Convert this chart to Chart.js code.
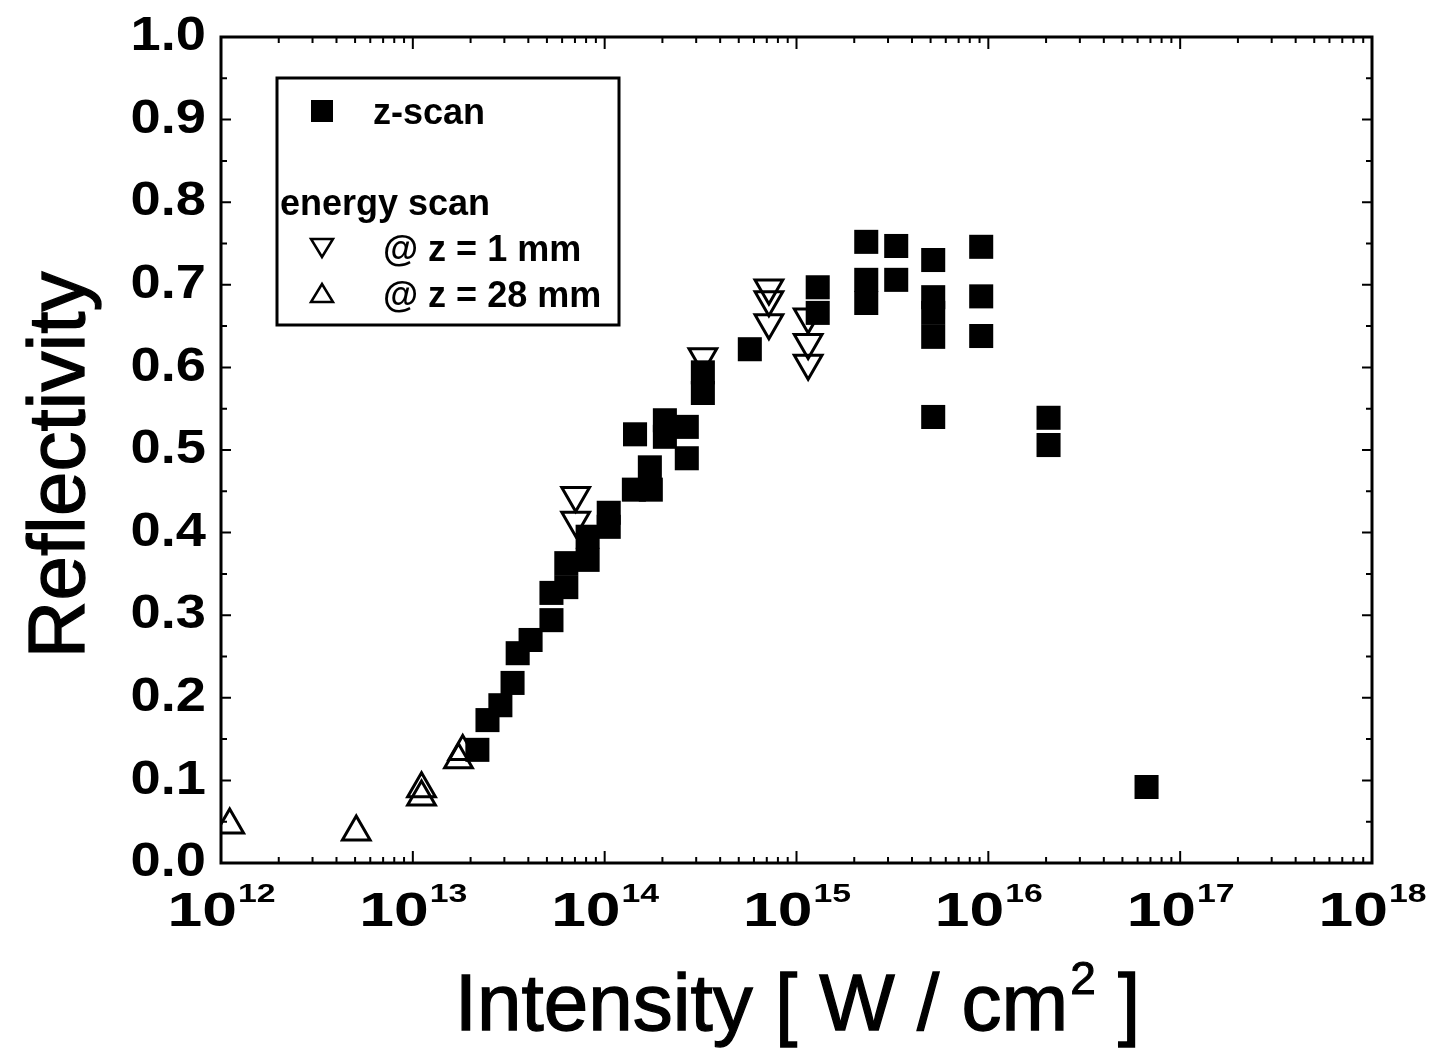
<!DOCTYPE html>
<html>
<head>
<meta charset="utf-8">
<script src="https://cdn.jsdelivr.net/npm/chart.js@4"></script>
<style>
  body { margin: 0; background: #fff; }
</style>
</head>
<body>
<canvas id="myChart" width="1430" height="1048"></canvas>
<script>
// z-scan (filled squares)
const zscanX = [2.17e13, 2.45e13, 2.86e13, 3.31e13, 3.52e13, 4.11e13, 5.28e13, 5.28e13, 6.31e13, 6.31e13,
                8.15e13, 8.15e13, 1.05e14, 1.05e14, 1.42e14, 1.74e14, 1.72e14, 1.44e14, 2.06e14, 2.06e14,
                2.68e14, 2.68e14, 3.25e14, 3.25e14, 5.71e14, 1.29e15, 1.29e15, 2.31e15, 2.31e15, 2.31e15,
                3.31e15, 3.31e15, 5.16e15, 5.16e15, 5.16e15, 5.16e15, 5.16e15, 9.18e15, 9.18e15, 9.18e15,
                2.06e16, 2.06e16, 6.68e16]
const zscanY = [0.137, 0.173, 0.191, 0.218, 0.254, 0.270, 0.294, 0.327, 0.334, 0.363,
                0.367, 0.395, 0.407, 0.424, 0.452, 0.452, 0.479, 0.519, 0.536, 0.516,
                0.528, 0.490, 0.569, 0.594, 0.622, 0.697, 0.666, 0.752, 0.706, 0.678,
                0.747, 0.706, 0.730, 0.685, 0.666, 0.637, 0.540, 0.746, 0.686, 0.638,
                0.539, 0.506, 0.092]

// energy scan @ z = 1 mm (open down triangles)
const e1X = [7.06e13, 7.06e13, 3.25e14, 7.18e14, 7.18e14, 7.18e14, 1.15e15, 1.15e15, 1.15e15]
const e1Y = [0.445, 0.415, 0.613, 0.696, 0.682, 0.654, 0.661, 0.630, 0.605]

// energy scan @ z = 28 mm (open up triangles)
const e28X = [1.11e12, 5.07e12, 1.11e13, 1.11e13, 1.73e13, 1.82e13]
const e28Y = [0.046, 0.0375, 0.09, 0.08, 0.125, 0.135]

const xDecades = [12, 13, 14, 15, 16, 17, 18]
const yTicks = [0.0, 0.1, 0.2, 0.3, 0.4, 0.5, 0.6, 0.7, 0.8, 0.9, 1.0]

const toPoints = (xs, ys) => xs.map((x, i) => ({ x: x, y: ys[i] }))

const FONT = '"Liberation Sans", Arial, sans-serif'

// text that looks a bit heavier, like the scanned original; sx stretches it sideways
const heavyText = (ctx, text, x, y, sx, weight) => {
    ctx.save()
    ctx.translate(x, y)
    ctx.scale(sx, 1)
    ctx.lineWidth = weight
    ctx.fillText(text, 0, 0)
    if (weight > 0) ctx.strokeText(text, 0, 0)
    ctx.restore()
}

// frame, inward ticks, labels, titles and the boxed legend
const decor = {
    id: 'decor',
    afterDatasetsDraw(chart) {
        const ctx = chart.ctx
        const a = chart.chartArea
        const xs = chart.scales.x
        const ys = chart.scales.y
        ctx.save()
        ctx.strokeStyle = '#000'
        ctx.fillStyle = '#000'
        ctx.lineWidth = 3
        ctx.strokeRect(a.left, a.top, a.right - a.left, a.bottom - a.top)

        // x ticks
        ctx.lineWidth = 2
        ctx.beginPath()
        for (let d = 12; d < 18; d++) {
            for (let m = 1; m <= 9; m++) {
                const px = xs.getPixelForValue(m * Math.pow(10, d))
                const len = m === 1 ? 12 : 6
                ctx.moveTo(px, a.bottom); ctx.lineTo(px, a.bottom - len)
                ctx.moveTo(px, a.top); ctx.lineTo(px, a.top + len)
            }
        }
        // y ticks
        for (let v = 0; v <= 20; v++) {
            const py = ys.getPixelForValue(v * 0.05)
            const len = v % 2 === 0 ? 10 : 6
            ctx.moveTo(a.left, py); ctx.lineTo(a.left + len, py)
            ctx.moveTo(a.right, py); ctx.lineTo(a.right - len, py)
        }
        ctx.stroke()

        // y tick labels
        ctx.font = 'bold 48px ' + FONT
        ctx.textAlign = 'left'
        ctx.textBaseline = 'middle'
        yTicks.forEach(v => {
            const s = v.toFixed(1)
            const w = ctx.measureText(s).width * 1.13
            heavyText(ctx, s, 206 - w, ys.getPixelForValue(v), 1.13, 0)
        })

        // x tick labels with superscript exponents
        ctx.textBaseline = 'alphabetic'
        const sx = 1.3
        xDecades.forEach(d => {
            const px = xs.getPixelForValue(Math.pow(10, d))
            ctx.font = 'bold 48px ' + FONT
            const w1 = ctx.measureText('10').width * sx
            ctx.font = 'bold 26px ' + FONT
            const w2 = ctx.measureText(String(d)).width * sx
            const left = px - (w1 + w2) / 2
            ctx.font = 'bold 48px ' + FONT
            heavyText(ctx, '10', left, 926, sx, 0)
            ctx.font = 'bold 26px ' + FONT
            heavyText(ctx, String(d), left + w1 + 1, 902, sx, 0)
        })

        // x title
        ctx.font = '80px ' + FONT
        const t1 = 'Intensity [ W / cm'
        const t2 = '2'
        const t3 = ' ]'
        const w1 = ctx.measureText(t1).width
        const w3 = ctx.measureText(t3).width
        ctx.font = '46px ' + FONT
        const w2 = ctx.measureText(t2).width
        let tx = (a.left + a.right) / 2 - (w1 + w2 + w3) / 2
        ctx.font = '80px ' + FONT
        heavyText(ctx, t1, tx, 1030, 1, 1.3)
        ctx.font = '46px ' + FONT
        heavyText(ctx, t2, tx + w1 + 2, 994, 1, 1)
        ctx.font = '80px ' + FONT
        heavyText(ctx, t3, tx + w1 + w2 + 2, 1030, 1, 1.3)

        // y title
        ctx.save()
        ctx.translate(84, 465)
        ctx.rotate(-Math.PI / 2)
        ctx.textAlign = 'center'
        ctx.font = '80px ' + FONT
        heavyText(ctx, 'Reflectivity', 0, 0, 1, 1.3)
        ctx.restore()

        // legend box
        ctx.lineWidth = 3
        ctx.strokeRect(277, 78, 342, 247)
        ctx.fillRect(311, 100, 22, 22)
        ctx.font = 'bold 36px ' + FONT
        ctx.textAlign = 'left'
        ctx.fillText('z-scan', 373, 124)
        ctx.fillText('energy scan', 280, 215)
        ctx.fillText('@ z = 1 mm', 383, 261)
        ctx.fillText('@ z = 28 mm', 383, 307)
        ctx.lineWidth = 2.5
        ctx.beginPath()
        ctx.moveTo(311, 239); ctx.lineTo(333, 239); ctx.lineTo(322, 257); ctx.closePath()
        ctx.moveTo(311, 302); ctx.lineTo(333, 302); ctx.lineTo(322, 284); ctx.closePath()
        ctx.stroke()
        ctx.restore()
    }
}

const ctx = document.getElementById('myChart').getContext('2d')
const myChart = new Chart(ctx, {
    type: 'scatter',
    data: {
        datasets: [
            {
                label: 'z-scan',
                data: toPoints(zscanX, zscanY),
                pointStyle: 'rect',
                pointRadius: 17,
                backgroundColor: '#000',
                borderColor: '#000',
                borderWidth: 0
            },
            {
                label: '@ z = 1 mm',
                data: toPoints(e1X, e1Y),
                pointStyle: 'triangle',
                rotation: 180,
                pointRadius: 16,
                backgroundColor: 'rgba(255,255,255,0)',
                borderColor: '#000',
                borderWidth: 3
            },
            {
                label: '@ z = 28 mm',
                data: toPoints(e28X, e28Y),
                pointStyle: 'triangle',
                pointRadius: 16,
                backgroundColor: 'rgba(255,255,255,0)',
                borderColor: '#000',
                borderWidth: 3
            }
        ]
    },
    options: {
        responsive: false,
        animation: false,
        layout: { padding: { left: 221, top: 37, right: 58, bottom: 185 } },
        plugins: {
            legend: { display: false },
            tooltip: { enabled: false }
        },
        scales: {
            x: { type: 'logarithmic', min: 1e12, max: 1e18, display: false },
            y: { type: 'linear', min: 0, max: 1, display: false }
        }
    },
    plugins: [decor]
});
</script>
</body>
</html>
